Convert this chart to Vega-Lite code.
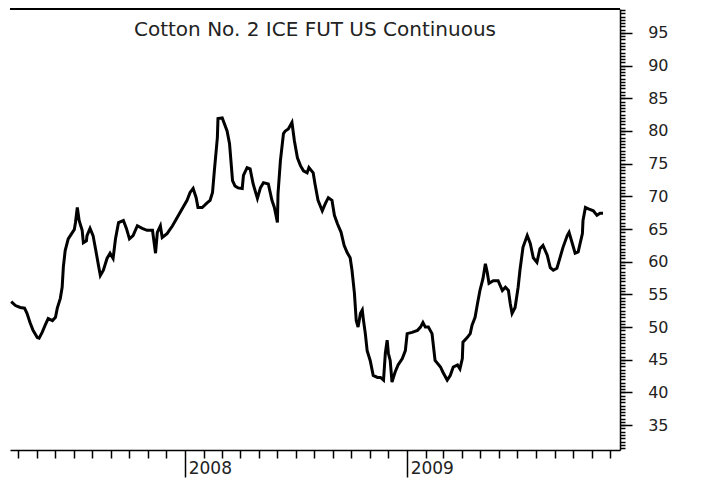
{
  "$schema": "https://vega.github.io/schema/vega-lite/v6.json",
  "width": 610,
  "height": 441,
  "autosize": "none",
  "padding": {"left": 10, "top": 9, "right": 84, "bottom": 31},
  "background": "white",
  "config": {
    "view": {"stroke": null},
    "axis": {"grid": false, "domainColor": "black", "tickColor": "black", "labelFont": "DejaVu Sans", "labelColor": "#222", "labelFontSize": 16, "title": null}
  },
  "title": {"text": "Cotton No. 2 ICE FUT US Continuous", "font": "DejaVu Sans", "fontSize": 20, "fontWeight": "normal", "color": "#222", "anchor": "middle", "offset": -52, "baseline": "bottom"},
  "data": {"values": [
    {"date": "2007-03-20", "price": 53.9}, {"date": "2007-03-27", "price": 53.3}, {"date": "2007-04-04", "price": 53.0}, {"date": "2007-04-11", "price": 52.9},
    {"date": "2007-04-15", "price": 52.1}, {"date": "2007-04-20", "price": 50.7}, {"date": "2007-04-25", "price": 49.5}, {"date": "2007-05-02", "price": 48.4},
    {"date": "2007-05-05", "price": 48.3}, {"date": "2007-05-10", "price": 49.2}, {"date": "2007-05-15", "price": 50.3}, {"date": "2007-05-20", "price": 51.3},
    {"date": "2007-05-27", "price": 51.0}, {"date": "2007-06-01", "price": 51.5}, {"date": "2007-06-04", "price": 52.9}, {"date": "2007-06-09", "price": 54.4},
    {"date": "2007-06-12", "price": 56.1}, {"date": "2007-06-14", "price": 59.2}, {"date": "2007-06-17", "price": 61.7}, {"date": "2007-06-22", "price": 63.5},
    {"date": "2007-06-29", "price": 64.5}, {"date": "2007-07-02", "price": 64.9}, {"date": "2007-07-04", "price": 66.0}, {"date": "2007-07-07", "price": 68.3},
    {"date": "2007-07-10", "price": 66.3}, {"date": "2007-07-15", "price": 64.8}, {"date": "2007-07-17", "price": 62.9}, {"date": "2007-07-22", "price": 63.2},
    {"date": "2007-07-23", "price": 64.0}, {"date": "2007-07-28", "price": 65.1}, {"date": "2007-08-02", "price": 64.0}, {"date": "2007-08-06", "price": 62.0},
    {"date": "2007-08-11", "price": 59.4}, {"date": "2007-08-14", "price": 57.9}, {"date": "2007-08-19", "price": 58.7}, {"date": "2007-08-25", "price": 60.5},
    {"date": "2007-08-30", "price": 61.3}, {"date": "2007-09-04", "price": 60.5}, {"date": "2007-09-08", "price": 63.5}, {"date": "2007-09-13", "price": 66.0},
    {"date": "2007-09-21", "price": 66.3}, {"date": "2007-09-26", "price": 65.1}, {"date": "2007-10-01", "price": 63.5}, {"date": "2007-10-07", "price": 64.0},
    {"date": "2007-10-14", "price": 65.5}, {"date": "2007-10-22", "price": 65.1}, {"date": "2007-10-30", "price": 64.8}, {"date": "2007-11-08", "price": 64.8},
    {"date": "2007-11-13", "price": 61.3}, {"date": "2007-11-16", "price": 64.5}, {"date": "2007-11-21", "price": 65.5}, {"date": "2007-11-24", "price": 63.7},
    {"date": "2007-12-02", "price": 64.3}, {"date": "2007-12-11", "price": 65.5}, {"date": "2007-12-19", "price": 66.8}, {"date": "2007-12-27", "price": 68.1},
    {"date": "2008-01-04", "price": 69.4}, {"date": "2008-01-09", "price": 70.6}, {"date": "2008-01-14", "price": 71.2}, {"date": "2008-01-19", "price": 69.8},
    {"date": "2008-01-22", "price": 68.3}, {"date": "2008-01-29", "price": 68.3}, {"date": "2008-02-06", "price": 69.0}, {"date": "2008-02-11", "price": 69.4},
    {"date": "2008-02-15", "price": 70.6}, {"date": "2008-02-18", "price": 73.9}, {"date": "2008-02-23", "price": 79.0}, {"date": "2008-02-24", "price": 81.9},
    {"date": "2008-03-02", "price": 82.0}, {"date": "2008-03-10", "price": 80.0}, {"date": "2008-03-14", "price": 78.1}, {"date": "2008-03-15", "price": 77.0},
    {"date": "2008-03-19", "price": 72.4}, {"date": "2008-03-23", "price": 71.6}, {"date": "2008-03-28", "price": 71.3}, {"date": "2008-04-04", "price": 71.2},
    {"date": "2008-04-06", "price": 73.2}, {"date": "2008-04-12", "price": 74.4}, {"date": "2008-04-17", "price": 74.2}, {"date": "2008-04-22", "price": 71.9},
    {"date": "2008-04-29", "price": 69.7}, {"date": "2008-05-04", "price": 71.3}, {"date": "2008-05-09", "price": 72.1}, {"date": "2008-05-17", "price": 71.9},
    {"date": "2008-05-23", "price": 69.4}, {"date": "2008-05-27", "price": 68.3}, {"date": "2008-06-01", "price": 66.0}, {"date": "2008-06-02", "price": 70.4},
    {"date": "2008-06-06", "price": 75.5}, {"date": "2008-06-11", "price": 79.6}, {"date": "2008-06-14", "price": 80.0}, {"date": "2008-06-19", "price": 80.3},
    {"date": "2008-06-25", "price": 81.3}, {"date": "2008-06-29", "price": 78.5}, {"date": "2008-07-04", "price": 75.9}, {"date": "2008-07-09", "price": 74.7},
    {"date": "2008-07-14", "price": 73.9}, {"date": "2008-07-20", "price": 73.6}, {"date": "2008-07-23", "price": 74.4}, {"date": "2008-07-30", "price": 73.6},
    {"date": "2008-08-02", "price": 71.9}, {"date": "2008-08-07", "price": 69.4}, {"date": "2008-08-14", "price": 67.8}, {"date": "2008-08-19", "price": 68.9},
    {"date": "2008-08-24", "price": 69.8}, {"date": "2008-08-30", "price": 69.4}, {"date": "2008-09-03", "price": 67.1}, {"date": "2008-09-08", "price": 65.8},
    {"date": "2008-09-14", "price": 64.5}, {"date": "2008-09-19", "price": 62.5}, {"date": "2008-09-24", "price": 61.4}, {"date": "2008-09-29", "price": 60.6},
    {"date": "2008-10-02", "price": 58.7}, {"date": "2008-10-06", "price": 55.2}, {"date": "2008-10-09", "price": 51.0}, {"date": "2008-10-12", "price": 50.0},
    {"date": "2008-10-16", "price": 52.1}, {"date": "2008-10-19", "price": 52.6}, {"date": "2008-10-21", "price": 51.0}, {"date": "2008-10-24", "price": 49.0},
    {"date": "2008-10-27", "price": 46.4}, {"date": "2008-11-01", "price": 44.9}, {"date": "2008-11-06", "price": 42.6}, {"date": "2008-11-13", "price": 42.3},
    {"date": "2008-11-18", "price": 42.3}, {"date": "2008-11-23", "price": 41.9}, {"date": "2008-11-26", "price": 46.0}, {"date": "2008-11-29", "price": 48.0},
    {"date": "2008-12-01", "price": 46.0}, {"date": "2008-12-04", "price": 44.9}, {"date": "2008-12-07", "price": 41.6}, {"date": "2008-12-12", "price": 43.1},
    {"date": "2008-12-17", "price": 44.2}, {"date": "2008-12-24", "price": 45.2}, {"date": "2008-12-29", "price": 46.4}, {"date": "2009-01-01", "price": 49.0},
    {"date": "2009-01-09", "price": 49.2}, {"date": "2009-01-18", "price": 49.5}, {"date": "2009-01-23", "price": 50.0}, {"date": "2009-01-27", "price": 50.7},
    {"date": "2009-01-31", "price": 50.0}, {"date": "2009-02-05", "price": 50.0}, {"date": "2009-02-11", "price": 49.0}, {"date": "2009-02-16", "price": 44.9},
    {"date": "2009-02-25", "price": 43.9}, {"date": "2009-03-01", "price": 43.1}, {"date": "2009-03-08", "price": 41.9}, {"date": "2009-03-13", "price": 42.6},
    {"date": "2009-03-18", "price": 43.9}, {"date": "2009-03-25", "price": 44.2}, {"date": "2009-03-29", "price": 43.6}, {"date": "2009-04-02", "price": 45.2},
    {"date": "2009-04-03", "price": 47.7}, {"date": "2009-04-10", "price": 48.4}, {"date": "2009-04-15", "price": 49.0}, {"date": "2009-04-18", "price": 50.3},
    {"date": "2009-04-23", "price": 51.5}, {"date": "2009-04-27", "price": 53.6}, {"date": "2009-05-01", "price": 55.6}, {"date": "2009-05-06", "price": 57.4},
    {"date": "2009-05-10", "price": 59.7}, {"date": "2009-05-13", "price": 58.4}, {"date": "2009-05-16", "price": 56.7}, {"date": "2009-05-23", "price": 57.1},
    {"date": "2009-05-31", "price": 57.1}, {"date": "2009-06-07", "price": 55.6}, {"date": "2009-06-12", "price": 56.1}, {"date": "2009-06-17", "price": 55.6},
    {"date": "2009-06-20", "price": 53.6}, {"date": "2009-06-23", "price": 52.1}, {"date": "2009-06-28", "price": 53.0}, {"date": "2009-07-03", "price": 56.1},
    {"date": "2009-07-06", "price": 58.7}, {"date": "2009-07-11", "price": 62.2}, {"date": "2009-07-18", "price": 64.0}, {"date": "2009-07-23", "price": 62.8},
    {"date": "2009-07-28", "price": 60.6}, {"date": "2009-08-03", "price": 59.9}, {"date": "2009-08-08", "price": 62.0}, {"date": "2009-08-13", "price": 62.5},
    {"date": "2009-08-20", "price": 61.0}, {"date": "2009-08-25", "price": 59.1}, {"date": "2009-08-30", "price": 58.7}, {"date": "2009-09-05", "price": 59.0},
    {"date": "2009-09-10", "price": 60.6}, {"date": "2009-09-15", "price": 62.2}, {"date": "2009-09-22", "price": 64.0}, {"date": "2009-09-25", "price": 64.5},
    {"date": "2009-09-30", "price": 62.9}, {"date": "2009-10-05", "price": 61.3}, {"date": "2009-10-10", "price": 61.5}, {"date": "2009-10-17", "price": 64.3},
    {"date": "2009-10-18", "price": 66.3}, {"date": "2009-10-22", "price": 68.3}, {"date": "2009-10-27", "price": 68.1}, {"date": "2009-11-04", "price": 67.8},
    {"date": "2009-11-10", "price": 67.1}, {"date": "2009-11-15", "price": 67.4}, {"date": "2009-11-20", "price": 67.4}
  ]},
  "layer": [
    {
      "mark": {"type": "line", "color": "black", "strokeWidth": 3, "strokeJoin": "miter"},
      "encoding": {
        "x": {"field": "date", "type": "temporal",
          "scale": {"type": "utc", "domain": [{"year": 2007, "month": 3, "date": 18, "utc": true}, {"year": 2009, "month": 12, "date": 18, "utc": true}]},
          "axis": {"orient": "bottom", "labels": false, "tickSize": 8, "tickWidth": 1.5, "domainWidth": 1.5,
            "values": [
              {"year": 2007, "month": 4, "date": 1, "utc": true}, {"year": 2007, "month": 5, "date": 1, "utc": true}, {"year": 2007, "month": 6, "date": 1, "utc": true},
              {"year": 2007, "month": 7, "date": 1, "utc": true}, {"year": 2007, "month": 8, "date": 1, "utc": true}, {"year": 2007, "month": 9, "date": 1, "utc": true},
              {"year": 2007, "month": 10, "date": 1, "utc": true}, {"year": 2007, "month": 11, "date": 1, "utc": true}, {"year": 2007, "month": 12, "date": 1, "utc": true},
              {"year": 2008, "month": 2, "date": 1, "utc": true}, {"year": 2008, "month": 3, "date": 1, "utc": true}, {"year": 2008, "month": 4, "date": 1, "utc": true},
              {"year": 2008, "month": 5, "date": 1, "utc": true}, {"year": 2008, "month": 6, "date": 1, "utc": true}, {"year": 2008, "month": 7, "date": 1, "utc": true},
              {"year": 2008, "month": 8, "date": 1, "utc": true}, {"year": 2008, "month": 9, "date": 1, "utc": true}, {"year": 2008, "month": 10, "date": 1, "utc": true},
              {"year": 2008, "month": 11, "date": 1, "utc": true}, {"year": 2008, "month": 12, "date": 1, "utc": true},
              {"year": 2009, "month": 2, "date": 1, "utc": true}, {"year": 2009, "month": 3, "date": 1, "utc": true}, {"year": 2009, "month": 4, "date": 1, "utc": true},
              {"year": 2009, "month": 5, "date": 1, "utc": true}, {"year": 2009, "month": 6, "date": 1, "utc": true}, {"year": 2009, "month": 7, "date": 1, "utc": true},
              {"year": 2009, "month": 8, "date": 1, "utc": true}, {"year": 2009, "month": 9, "date": 1, "utc": true}, {"year": 2009, "month": 10, "date": 1, "utc": true},
              {"year": 2009, "month": 11, "date": 1, "utc": true}, {"year": 2009, "month": 12, "date": 1, "utc": true}
            ]}},
        "y": {"field": "price", "type": "quantitative",
          "scale": {"domain": [31.2, 98.66], "nice": false, "zero": false},
          "axis": {"orient": "right", "values": [35, 40, 45, 50, 55, 60, 65, 70, 75, 80, 85, 90, 95], "tickSize": 12, "tickWidth": 1.5, "domainWidth": 1.5, "labelPadding": 36, "labelAlign": "right", "labelBaseline": "middle", "labelFontSize": 16}}
      }
    },
    {
      "data": {"values": [{"top": 98.66}]},
      "mark": {"type": "rule", "color": "black", "strokeWidth": 2},
      "encoding": {
        "y": {"field": "top", "type": "quantitative",
          "scale": {"domain": [31.2, 98.66], "nice": false, "zero": false},
          "axis": {"orient": "right", "labels": false, "domain": false, "tickSize": 5, "tickWidth": 1.5,
            "values": [31.5, 32, 32.5, 33, 33.5, 34, 34.5, 35, 35.5, 36, 36.5, 37, 37.5, 38, 38.5, 39, 39.5, 40, 40.5, 41, 41.5, 42, 42.5, 43, 43.5, 44, 44.5, 45, 45.5, 46, 46.5, 47, 47.5, 48, 48.5, 49, 49.5, 50, 50.5, 51, 51.5, 52, 52.5, 53, 53.5, 54, 54.5, 55, 55.5, 56, 56.5, 57, 57.5, 58, 58.5, 59, 59.5, 60, 60.5, 61, 61.5, 62, 62.5, 63, 63.5, 64, 64.5, 65, 65.5, 66, 66.5, 67, 67.5, 68, 68.5, 69, 69.5, 70, 70.5, 71, 71.5, 72, 72.5, 73, 73.5, 74, 74.5, 75, 75.5, 76, 76.5, 77, 77.5, 78, 78.5, 79, 79.5, 80, 80.5, 81, 81.5, 82, 82.5, 83, 83.5, 84, 84.5, 85, 85.5, 86, 86.5, 87, 87.5, 88, 88.5, 89, 89.5, 90, 90.5, 91, 91.5, 92, 92.5, 93, 93.5, 94, 94.5, 95, 95.5, 96, 96.5, 97, 97.5, 98, 98.5]}}
      }
    },
    {
      "mark": {"type": "point", "opacity": 0},
      "encoding": {
        "x": {"field": "date", "type": "temporal",
          "scale": {"type": "utc", "domain": [{"year": 2007, "month": 3, "date": 18, "utc": true}, {"year": 2009, "month": 12, "date": 18, "utc": true}]},
          "axis": {"orient": "bottom", "domain": false, "tickSize": 27, "tickWidth": 1.5, "format": "%Y", "labelAlign": "left", "labelBaseline": "top", "labelPadding": -17, "labelOffset": 3, "labelFontSize": 17,
            "values": [{"year": 2008, "month": 1, "date": 1, "utc": true}, {"year": 2009, "month": 1, "date": 1, "utc": true}]}},
        "y": {"field": "price", "type": "quantitative", "scale": {"domain": [31.2, 98.66], "nice": false, "zero": false}, "axis": null}
      }
    }
  ],
  "resolve": {"axis": {"x": "independent", "y": "independent"}}
}
